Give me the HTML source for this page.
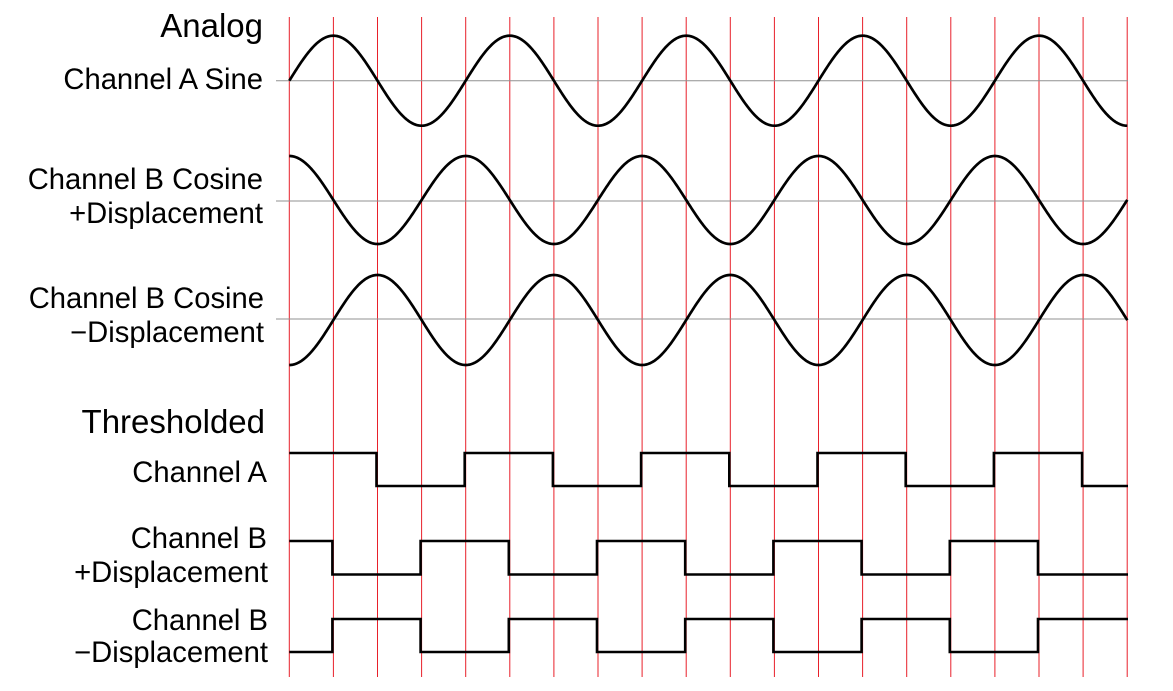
<!DOCTYPE html>
<html><head><meta charset="utf-8"><style>
html,body{margin:0;padding:0;background:#fff;}
svg{display:block;}
text{font-family:"Liberation Sans",Arial,sans-serif;fill:#000;}
</style></head><body>
<svg id="s" width="1173" height="691" viewBox="0 0 1173 691" xmlns="http://www.w3.org/2000/svg">
<g id="grid" stroke="#e8202a" stroke-width="1"></g>
<g id="waves" fill="none" stroke="#000" stroke-width="2.6" stroke-linejoin="miter"></g>
<g font-size="29.2" text-anchor="end">
<text x="263" y="37" font-size="33">Analog</text>
<text x="263" y="89">Channel A Sine</text>
<text x="263" y="189">Channel B Cosine</text>
<text x="263" y="223">+Displacement</text>
<text x="264" y="308">Channel B Cosine</text>
<text x="264" y="342">−Displacement</text>
<text x="265" y="433" font-size="33">Thresholded</text>
<text x="267" y="482">Channel A</text>
<text x="267" y="548">Channel B</text>
<text x="268" y="582">+Displacement</text>
<text x="268" y="630">Channel B</text>
<text x="268" y="662">−Displacement</text>
</g>
</svg>
<script>
var NS="http://www.w3.org/2000/svg";
var g=document.getElementById("grid"),w=document.getElementById("waves");
var x0=289.3,dx=44.1;
function el(p,t,a){var e=document.createElementNS(NS,t);for(var k in a)e.setAttribute(k,a[k]);p.appendChild(e);return e;}
for(var i=0;i<20;i++){var x=x0+i*dx;el(g,"line",{x1:x,y1:17,x2:x,y2:677});}
[80.7,201,319].forEach(function(y){el(g,"line",{x1:276,y1:y,x2:1128,y2:y,stroke:"#909090"});});
var P=4*dx;
function wave(cy,amp,ph){var d="";for(var x=x0;x<=1127.5;x+=1){var t=(x-x0)/P*2*Math.PI;var y=cy-amp*Math.sin(t+ph);d+=(d?"L":"M")+x.toFixed(1)+" "+y.toFixed(2);}el(w,"path",{d:d,"stroke-width":"2.7"});}
wave(80.7,45,0);
wave(200,44,Math.PI/2);
wave(320,45,-Math.PI/2);
function sq(hi,lo,startHigh,offset){var level=startHigh;var d="M"+x0+" "+(level?hi:lo);var edges=[];for(var k=offset;k<=20;k+=2){var ex=x0+k*dx-1;if(ex>x0&&ex<1120)edges.push(ex);}
edges.forEach(function(ex){d+="L"+ex.toFixed(1)+" "+(level?hi:lo);level=!level;d+="L"+ex.toFixed(1)+" "+(level?hi:lo);});d+="L1128 "+(level?hi:lo);el(w,"path",{d:d});}
sq(453,486,true,2);
sq(541,574.5,true,1);
sq(619,652,false,1);
</script>
</body></html>
